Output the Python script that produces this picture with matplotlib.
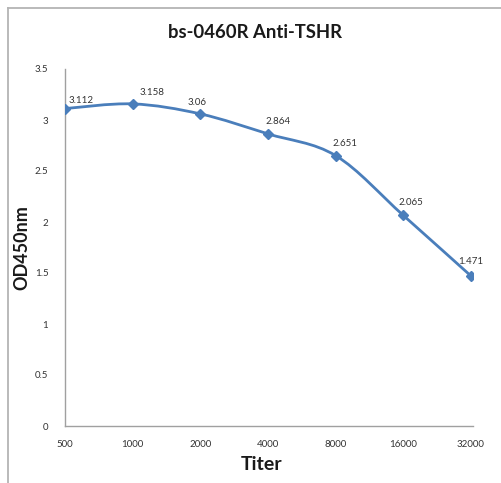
import numpy as np
import matplotlib
matplotlib.use("Agg")
import matplotlib.pyplot as plt
from matplotlib.path import Path
from matplotlib.patches import PathPatch
from matplotlib.lines import Line2D

titers = ["500", "1000", "2000", "4000", "8000", "16000", "32000"]
od450 = [3.112, 3.158, 3.06, 2.864, 2.651, 2.065, 1.471]
y_ticks = [0, 0.5, 1, 1.5, 2, 2.5, 3, 3.5]
y_tick_labels = ["0", "0.5", "1", "1.5", "2", "2.5", "3", "3.5"]

plt.rcParams['font.family'] = ['Lato', 'DejaVu Sans']

W, H = 501, 483
fig = plt.figure(figsize=(W / 100, H / 100), dpi=100)
fig.patch.set_facecolor("white")

# outer chart frame (only top and left edges visible)
fig.add_artist(Line2D([8 / W, 1], [1 - 8 / H, 1 - 8 / H], color="#b4b4b4", lw=1.3))
fig.add_artist(Line2D([8 / W, 8 / W], [0, 1 - 8 / H], color="#b4b4b4", lw=1.3))

ax = fig.add_axes([65 / W, 57 / H, 408 / W, 357 / H])
ax.set_facecolor("white")

x = np.arange(len(titers))
y = np.array(od450)
blue = "#4a7ebb"

# smoothed line like Excel (Catmull-Rom as cubic Bezier)
pts = np.column_stack([x, y]).astype(float)
ext = np.vstack([pts[0], pts, pts[-1]])
verts = [tuple(pts[0])]
codes = [Path.MOVETO]
for i in range(len(pts) - 1):
    p0, p1, p2, p3 = ext[i], ext[i + 1], ext[i + 2], ext[i + 3]
    c1 = p1 + (p2 - p0) / 6.0
    c2 = p2 - (p3 - p1) / 6.0
    verts += [tuple(c1), tuple(c2), tuple(p2)]
    codes += [Path.CURVE4] * 3
ax.add_patch(PathPatch(Path(verts, codes), facecolor="none", edgecolor=blue,
                       lw=2.0, capstyle="round", joinstyle="round", zorder=3))
ax.plot(x, y, linestyle="none", marker="D", markersize=5, color=blue, zorder=4)

# label offsets in pixels (center of text relative to point)
offsets = [(16, 8), (19, 11), (-3, 11), (10, 12), (9, 12), (8, 13), (0, 14)]
for xi, yi, (dx, dy) in zip(x, y, offsets):
    ax.annotate(f"{yi:g}", (xi, yi), xytext=(dx, dy), textcoords="offset pixels",
                ha="center", va="center", fontsize=7, color="#333333", zorder=5)

ax.set_xlim(0, 6.03)
ax.set_ylim(0, 3.5)
ax.set_xticks(x)
ax.set_xticklabels(titers)
ax.set_yticks(y_ticks)
ax.set_yticklabels(y_tick_labels)
ax.tick_params(axis="both", length=0, labelsize=7, labelcolor="#333333")
ax.tick_params(axis="x", pad=10)
ax.tick_params(axis="y", pad=12)

for s in ["top", "right"]:
    ax.spines[s].set_visible(False)
for s in ["left", "bottom"]:
    ax.spines[s].set_color("#a0a0a0")
    ax.spines[s].set_linewidth(1.0)

fig.text(255 / W, 1 - 33 / H, "bs-0460R Anti-TSHR", ha="center", va="center",
         fontsize=13.3, fontweight="bold", color="#1a1a1a")
fig.text(262 / W, 1 - 465 / H, "Titer", ha="center", va="center",
         fontsize=14, fontweight="bold", color="#1a1a1a")
fig.text(22 / W, 1 - 248 / H, "OD450nm", ha="center", va="center", rotation=90,
         fontsize=13, fontweight="bold", color="#1a1a1a")

fig.savefig("out.png", dpi=100)
